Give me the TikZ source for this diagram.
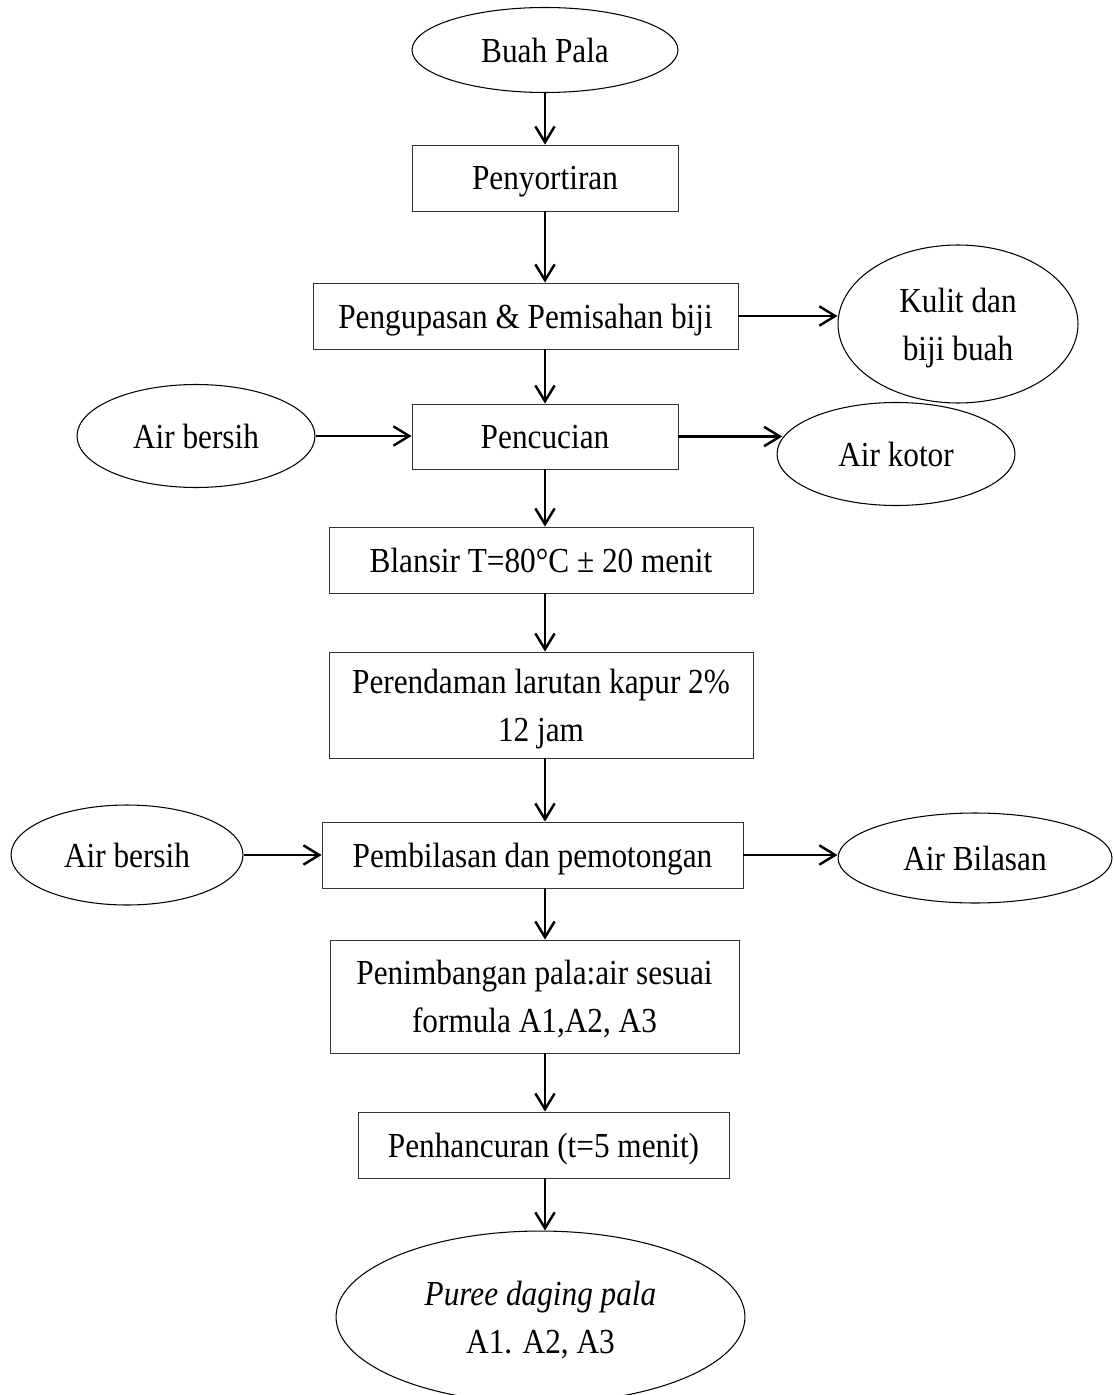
\documentclass[tikz,border=0pt]{standalone}
\usepackage{fontspec}
\setmainfont{Liberation Serif}[FakeStretch=0.89]
\usetikzlibrary{shapes.geometric,arrows.meta}

\begin{document}
\begin{tikzpicture}[x=0.02cm, y=-0.02cm, font=\fontsize{20}{27.4}\selectfont,
	proc/.style = {draw=black!80, line width=0.5pt, rectangle, inner sep=0pt, align=center, text depth=0pt},
	term/.style = {draw, ellipse, line width=0.6pt, inner sep=0pt, align=center, text depth=0pt},
	arr/.style = {-{Straight Barb[length=9pt,width=11pt]}, line width=1.4pt}]
	\useasboundingbox (0,0) rectangle (1114,1395);
	\node[term, minimum width=5.32cm, minimum height=1.7cm] (1) at (545,50) {Buah Pala};
	\node[proc, minimum width=5.32cm, minimum height=1.32cm] (2) at (545,178) {Penyortiran};
	\node[proc, minimum width=8.5cm, minimum height=1.32cm] (3) at (525.5,316) {Pengupasan \& Pemisahan biji};
	\node[term, minimum width=4.8cm, minimum height=3.16cm] (4) at (958,324) {Kulit dan\\biji buah};
	\node[proc, minimum width=5.32cm, minimum height=1.3cm] (5) at (545,436.5) {Pencucian};
	\node[term, minimum width=4.76cm, minimum height=2.06cm] (6) at (196,436) {Air bersih};
	\node[term, minimum width=4.76cm, minimum height=2.06cm] (7) at (896,454) {Air kotor};
	\node[proc, minimum width=8.48cm, minimum height=1.32cm] (8) at (541,560) {Blansir T=80°C ± 20 menit};
	\node[proc, minimum width=8.48cm, minimum height=2.12cm] (9) at (541,705) {Perendaman larutan kapur 2\%\\12 jam};
	\node[proc, minimum width=8.42cm, minimum height=1.32cm] (10) at (532.5,855) {Pembilasan dan pemotongan};
	\node[term, minimum width=4.64cm, minimum height=2cm] (11) at (127,855) {Air bersih};
	\node[term, minimum width=5.48cm, minimum height=1.8cm] (12) at (975,858) {Air Bilasan};
	\node[proc, minimum width=8.18cm, minimum height=2.26cm] (13) at (534.5,996.5) {Penimbangan pala:air sesuai\\formula A1,A2, A3};
	\node[proc, minimum width=7.42cm, minimum height=1.32cm] (14) at (543.5,1145) {Penhancuran (t=5 menit)};
	\node[term, minimum width=8.18cm, minimum height=3.44cm] (15) at (540.5,1317) {\textit{Puree daging pala}\\A1. A2, A3};

	\draw[arr] (1.south) -- (2.north);
	\draw[arr] (2.south) -- (3.north -| 2);
	\draw[arr] (3.south -| 5) -- (5.north);
	\draw[arr] (3.east) -- (3.east -| 4.west);
	\draw[arr] (6.east) -- (6.east -| 5.west);
	\draw[arr] (5.east) -- (5.east -| 7.172);
	\draw[arr] (5.south) -- (5.south |- 8.north);
	\draw[arr] (8.south -| 5) -- (9.north -| 5);
	\draw[arr] (9.south -| 5) -- (10.north -| 5);
	\draw[arr] (11.east) -- (11.east -| 10.west);
	\draw[arr] (10.east) -- (10.east -| 12.west);
	\draw[arr] (10.south -| 5) -- (13.north -| 5);
	\draw[arr] (13.south -| 5) -- (14.north -| 5);
	\draw[arr] (14.south -| 5) -- (15.north -| 5);

	%\draw[help lines] (0,0) grid (1114,1395);
\end{tikzpicture}
\end{document}
